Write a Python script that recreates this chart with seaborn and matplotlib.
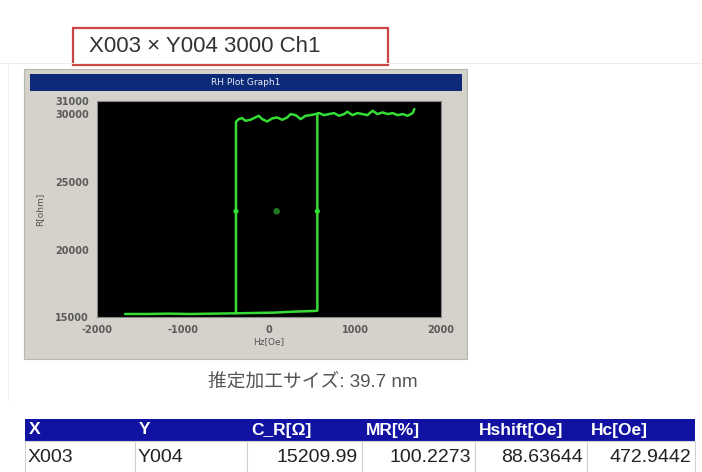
import matplotlib
matplotlib.use("Agg")
import matplotlib.pyplot as plt
import matplotlib.patches as patches
import pandas as pd
import seaborn as sns

# -------------------------------
# Data read off the RH loop
# -------------------------------
lower_h = [-1674, -1421, -1169, -916, -644, -399, -177, 56, 290, 523, 562, 562]
lower_r = [15223, 15223, 15248, 15223, 15248, 15273, 15298, 15323, 15397, 15446, 15470, 30060]

upper_h = [-384, -384, -352, -313, -274, -216, -158, -119, -80, -21, 37, 95, 154, 212,
           251, 309, 368, 426, 484, 543, 581, 640, 698, 756, 815, 873, 912, 970,
           1029, 1087, 1145, 1204, 1262, 1321, 1379, 1437, 1496, 1554, 1612, 1671, 1690]
upper_r = [15273, 29460, 29658, 29732, 29534, 29608, 29782, 29906, 29658, 29484, 29708,
           29782, 29608, 29782, 30030, 29955, 29658, 29906, 29955, 30030, 30104, 29955,
           30030, 30104, 29906, 30030, 30203, 29955, 30104, 30030, 29955, 30278, 30030,
           30154, 30030, 30104, 29955, 30030, 29906, 30104, 30402]

switch_h = [-384.3, 561.6]
center_h = [88.6]
mid_r = 22830

x_ticks = [-2000, -1000, 0, 1000, 2000]
y_ticks = [15000, 20000, 25000, 30000, 31000]

# -------------------------------
# Table contents
# -------------------------------
table_cols = ["X", "Y", "C_R[Ω]", "MR[%]", "Hshift[Oe]", "Hc[Oe]"]
table_vals = ["X003", "Y004", "15209.99", "100.2273", "88.63644", "472.9442"]

title_text = "X003 × Y004 3000 Ch1"
caption_text = "推定加工サイズ: 39.7 nm"

# -------------------------------
# Figure setup
# -------------------------------
sns.set_theme(style="white")
plt.rcParams["font.family"] = ["Liberation Sans", "Noto Sans CJK JP", "DejaVu Sans"]

W, H = 702, 472
fig = plt.figure(figsize=(W / 100, H / 100), dpi=100)
fig.patch.set_facecolor("white")

# background axes in pixel coordinates
bg = fig.add_axes([0, 0, 1, 1], zorder=0)
bg.set_xlim(0, W)
bg.set_ylim(H, 0)
bg.axis("off")

# faint screenshot edges
bg.plot([0, W], [63, 63], color="#ededed", lw=0.7)
bg.plot([8, 8], [63, 400], color="#f0f0f0", lw=0.7)

# red title box
bg.add_patch(patches.Rectangle((73, 28), 315, 37, fill=True, facecolor="white",
                               edgecolor="#cc4646", lw=1.6))
bg.text(89, 47, title_text, fontsize=16, color="#333333", va="center", ha="left")

# window panel
bg.add_patch(patches.Rectangle((24, 69), 443, 290, facecolor="#d5d2cc",
                               edgecolor="#b9b6b0", lw=0.8))
bg.add_patch(patches.Rectangle((30, 74), 432, 17, facecolor="#0c2a78", edgecolor="none"))
bg.text(246, 82.5, "RH Plot Graph1", fontsize=6.5, color="#e8ecf8", ha="center",
        va="center", family="DejaVu Sans")

# caption
bg.text(313, 382, caption_text, fontsize=13.5, color="#555555", ha="center", va="center")

# table
col_edges = [25, 135, 247, 362, 475, 587, 695]
bg.add_patch(patches.Rectangle((25, 419), 670, 22, facecolor="#1212a2", edgecolor="none"))
for i, name in enumerate(table_cols):
    bg.text(col_edges[i] + 4, 430, name, fontsize=12.5, fontweight="bold",
            color="white", ha="left", va="center")
for i, val in enumerate(table_vals):
    x0, x1 = col_edges[i], col_edges[i + 1]
    bg.add_patch(patches.Rectangle((x0, 441), x1 - x0, 40, facecolor="white",
                                   edgecolor="#d0d0d0", lw=0.8))
    if i < 2:
        bg.text(x0 + 3, 458, val, fontsize=14, color="#222222", ha="left", va="center")
    else:
        bg.text(x1 - 4, 458, val, fontsize=14, color="#222222", ha="right", va="center")

# -------------------------------
# RH plot
# -------------------------------
ax = fig.add_axes([97 / W, (H - 317) / H, 344 / W, 216 / H], zorder=2)
ax.set_facecolor("black")

lower = pd.DataFrame({"H": lower_h, "R": lower_r})
upper = pd.DataFrame({"H": upper_h, "R": upper_r})
green = "#35dc35"
sns.lineplot(data=lower, x="H", y="R", sort=False, estimator=None, errorbar=None,
             color=green, lw=1.8, ax=ax)
sns.lineplot(data=upper, x="H", y="R", sort=False, estimator=None, errorbar=None,
             color=green, lw=1.8, ax=ax)

marks = pd.DataFrame({"H": switch_h, "R": [mid_r] * len(switch_h)})
sns.scatterplot(data=marks, x="H", y="R", color=green, s=14, edgecolor="none", ax=ax)
cen = pd.DataFrame({"H": center_h, "R": [mid_r]})
sns.scatterplot(data=cen, x="H", y="R", color="#1f7a1f", s=22, edgecolor="none", ax=ax)

ax.set_xlim(-2000, 2000)
ax.set_ylim(15000, 31000)
ax.set_xticks(x_ticks)
ax.set_yticks(y_ticks)
ax.set_xticklabels([str(t) for t in x_ticks])
ax.set_yticklabels([str(t) for t in y_ticks])
ax.tick_params(axis="both", direction="out", length=4, width=0.8, color="#777777",
               labelsize=7, labelcolor="#5a5a5a", pad=2)
for lab in ax.get_xticklabels() + ax.get_yticklabels():
    lab.set_family("DejaVu Sans")
    lab.set_fontweight("bold")
ax.set_xlabel("Hz[Oe]", fontsize=6.5, color="#555555", labelpad=1, family="DejaVu Sans")
ax.set_ylabel("R[ohm]", fontsize=6.5, color="#555555", labelpad=8, family="DejaVu Sans")
for sp in ax.spines.values():
    sp.set_color("#888888")
    sp.set_linewidth(0.8)

fig.savefig("out.png", dpi=100)
plt.close(fig)
